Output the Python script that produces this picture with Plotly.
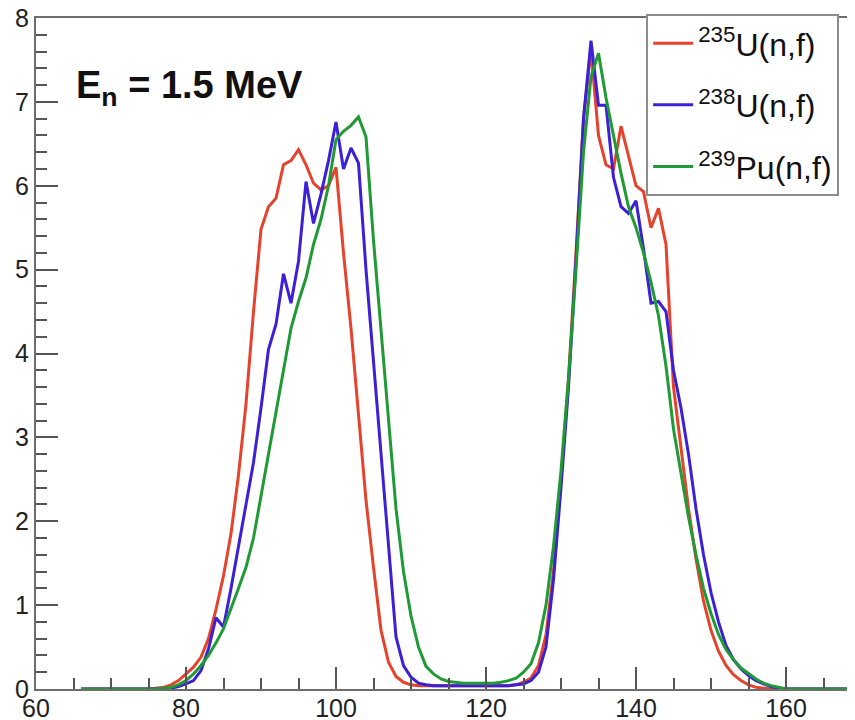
import plotly.graph_objects as go

# Fragment mass number A (x values)
mass = [66, 67, 68, 69, 70, 71, 72, 73, 74, 75, 76, 77, 78, 79, 80, 81, 82, 83, 84, 85,
        86, 87, 88, 89, 90, 91, 92, 93, 94, 95, 96, 97, 98, 99, 100, 101, 102, 103, 104, 105,
        106, 107, 108, 109, 110, 111, 112, 113, 114, 115, 116, 117, 118, 119, 120, 121, 122, 123, 124, 125,
        126, 127, 128, 129, 130, 131, 132, 133, 134, 135, 136, 137, 138, 139, 140, 141, 142, 143, 144, 145,
        146, 147, 148, 149, 150, 151, 152, 153, 154, 155, 156, 157, 158, 159, 160, 161, 162, 163, 164, 165,
        166, 167, 168, 169, 170]

u235 = [0, 0, 0, 0, 0, 0, 0, 0, 0, 0, 0.01, 0.02, 0.05, 0.1, 0.18, 0.26, 0.38, 0.6, 0.95, 1.35,
        1.85, 2.55, 3.4, 4.5, 5.48, 5.75, 5.85, 6.25, 6.3, 6.43, 6.25, 6.03, 5.95, 6.0, 6.22, 5.2, 4.3, 3.3, 2.25, 1.45,
        0.7, 0.32, 0.15, 0.08, 0.05, 0.04, 0.04, 0.04, 0.04, 0.04, 0.04, 0.04, 0.04, 0.04, 0.04, 0.04, 0.04, 0.04, 0.05, 0.08,
        0.13, 0.28, 0.65, 1.4, 2.5, 3.7, 5.2, 6.8, 7.62, 6.6, 6.25, 6.2, 6.71, 6.35, 6.0, 5.93, 5.5, 5.73, 5.3, 3.6,
        2.85, 2.15, 1.55, 1.05, 0.7, 0.45, 0.28, 0.17, 0.1, 0.05, 0.02, 0.01, 0, 0, 0, 0, 0, 0, 0, 0,
        0, 0, 0, 0, 0]

u238 = [0, 0, 0, 0, 0, 0, 0, 0, 0, 0, 0, 0, 0.01, 0.03, 0.06, 0.1, 0.22, 0.48, 0.85, 0.74,
        1.2, 1.7, 2.2, 2.7, 3.35, 4.05, 4.35, 4.95, 4.6, 5.1, 6.05, 5.55, 5.9, 6.3, 6.76, 6.2, 6.45, 6.27, 5.0, 3.9,
        2.8, 1.7, 0.62, 0.28, 0.14, 0.07, 0.05, 0.04, 0.04, 0.04, 0.04, 0.04, 0.04, 0.04, 0.04, 0.04, 0.04, 0.04, 0.05, 0.06,
        0.1, 0.2, 0.5, 1.3, 2.4, 3.6, 5.1, 6.8, 7.73, 6.96, 6.96, 6.1, 5.75, 5.67, 5.82, 5.25, 4.6, 4.62, 4.5, 3.8,
        3.35, 2.8, 2.15, 1.6, 1.15, 0.8, 0.52, 0.35, 0.24, 0.16, 0.1, 0.06, 0.03, 0.01, 0, 0, 0, 0, 0, 0,
        0, 0, 0, 0, 0]

pu239 = [0, 0, 0, 0, 0, 0, 0, 0, 0, 0, 0, 0.01, 0.02, 0.05, 0.1, 0.18, 0.28, 0.4, 0.55, 0.72,
         0.95, 1.2, 1.45, 1.8, 2.3, 2.8, 3.3, 3.84, 4.3, 4.62, 4.9, 5.3, 5.6, 6.0, 6.55, 6.65, 6.72, 6.82, 6.58, 5.35,
         4.3, 3.2, 2.15, 1.4, 0.87, 0.5, 0.27, 0.18, 0.12, 0.09, 0.08, 0.07, 0.07, 0.07, 0.07, 0.07, 0.08, 0.1, 0.13, 0.2,
         0.3, 0.55, 1.0, 1.7, 2.6, 3.7, 5.0, 6.4, 7.3, 7.58, 7.05, 6.6, 6.15, 5.75, 5.5, 5.2, 4.85, 4.45, 3.85, 3.1,
         2.55, 2.05, 1.6, 1.2, 0.9, 0.65, 0.47, 0.35, 0.25, 0.18, 0.12, 0.07, 0.04, 0.02, 0, 0, 0, 0, 0, 0,
         0, 0, 0, 0, 0]

series_names = ["<sup>235</sup>U(n,f)", "<sup>238</sup>U(n,f)", "<sup>239</sup>Pu(n,f)"]
series_colors = ["#e5432b", "#3b20d8", "#1f9a35"]
series_values = [u235, u238, pu239]

x_ticks = [60, 80, 100, 120, 140, 160]
y_ticks = [0, 1, 2, 3, 4, 5, 6, 7, 8]

FONT = "Liberation Sans, Arial, Helvetica, sans-serif"

fig = go.Figure()
for i, (name, col, vals) in enumerate(zip(series_names, series_colors, series_values)):
    fig.add_trace(go.Scatter(
        x=mass, y=vals, mode="lines", name=name,
        line=dict(color=col, width=3),
        legendgroup=f"g{i}",
    ))

# the page body has an 8 px default margin, so the figure is 8 px smaller
fig.update_layout(
    template="none",
    width=847, height=712,
    margin=dict(l=28, r=0, t=10, b=31, pad=0),
    paper_bgcolor="white", plot_bgcolor="white",
    font=dict(family=FONT, color="#222"),
    showlegend=True,
    legend=dict(
        x=0.745, y=1.006, xanchor="left", yanchor="top",
        bgcolor="white", bordercolor="#8c8c8c", borderwidth=2,
        font=dict(family=FONT, size=32, color="#111"),
        itemwidth=40, tracegroupgap=17,
    ),
    annotations=[dict(
        text="<b>E<sub>n</sub> = 1.5 MeV</b>",
        xref="paper", yref="paper", x=0.046, y=0.896,
        xanchor="left", yanchor="middle", showarrow=False,
        font=dict(family=FONT, size=38, color="#111"),
    )],
)

fig.update_xaxes(
    automargin=False,
    range=[60, 169.2], showgrid=False, zeroline=False,
    showline=True, linecolor="#6e6e6e", linewidth=2, mirror=True,
    tickmode="array", tickvals=x_ticks, ticktext=[str(v) for v in x_ticks],
    ticks="inside", ticklen=22, tickwidth=1.5, tickcolor="#555",
    minor=dict(dtick=5, tick0=60, ticks="inside", ticklen=11, tickwidth=1.5, tickcolor="#555"),
    tickfont=dict(family=FONT, size=25, color="#222"),
    ticklabelstandoff=-4, ticklabeloverflow="allow",
)
fig.update_yaxes(
    automargin=False,
    range=[0, 8], showgrid=False, zeroline=False,
    showline=True, linecolor="#6e6e6e", linewidth=2,
    tickmode="array", tickvals=y_ticks, ticktext=[str(v) for v in y_ticks],
    ticks="inside", ticklen=22, tickwidth=1.5, tickcolor="#555",
    minor=dict(dtick=0.2, tick0=0, ticks="inside", ticklen=11, tickwidth=1.5, tickcolor="#555"),
    tickfont=dict(family=FONT, size=25, color="#222"),
    ticklabeloverflow="allow",
)

fig.write_html("out.html")
